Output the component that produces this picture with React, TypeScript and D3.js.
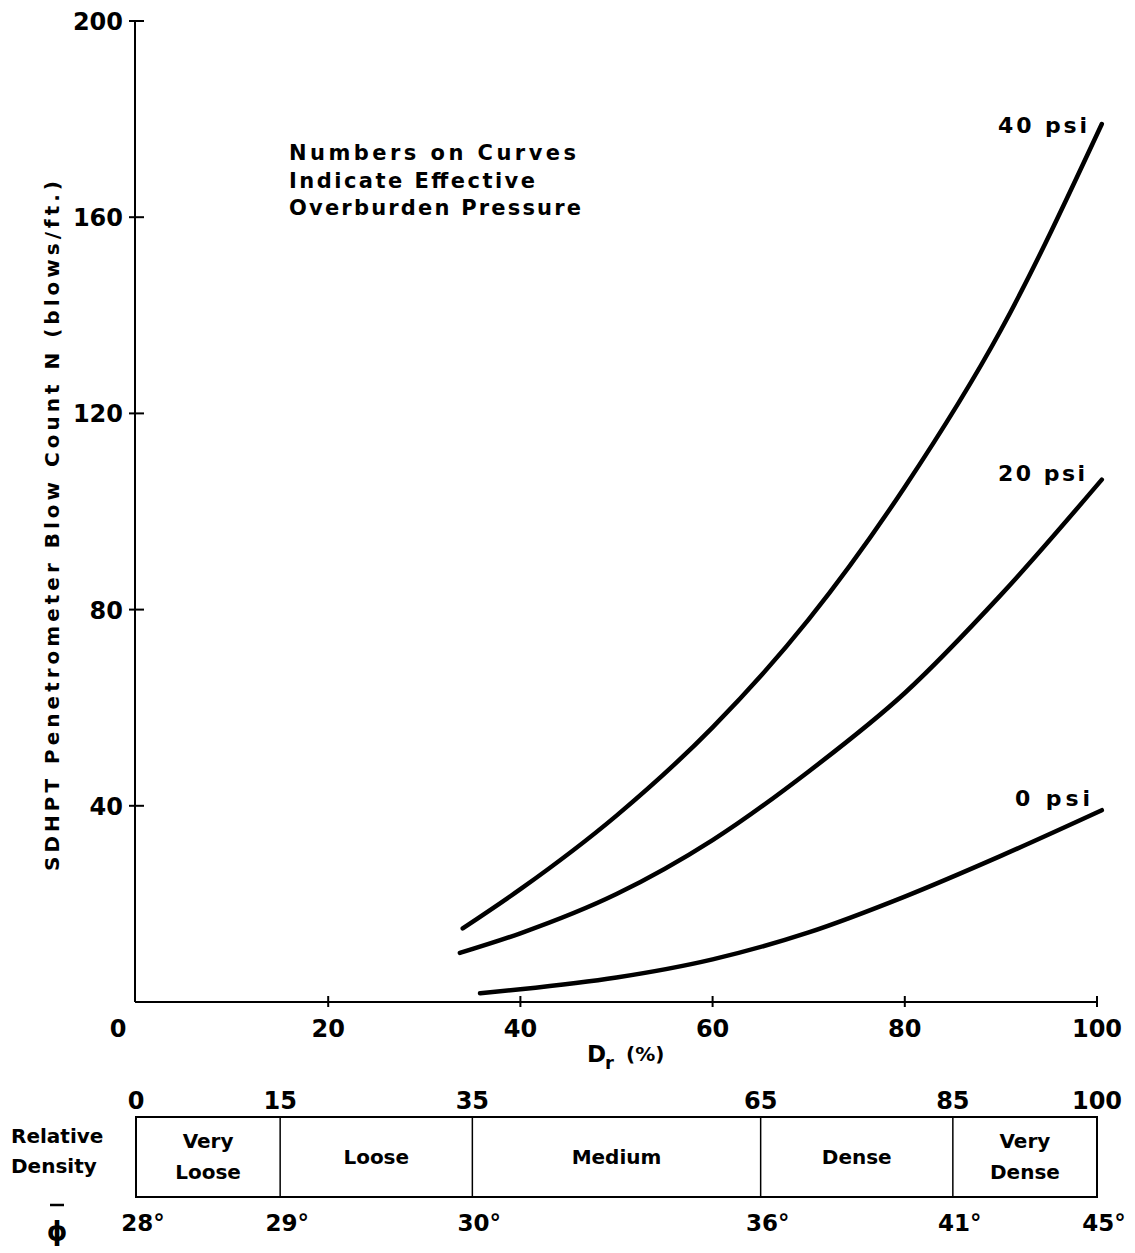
import React from "react";
import * as d3 from "d3";

const xTicks = [0, 20, 40, 60, 80, 100];
const yTicks = [40, 80, 120, 160, 200];

const curve40 = [
  [34, 15], [40, 23], [50, 38], [60, 56], [70, 78], [80, 105], [90, 137], [100.5, 179],
];
const curve20 = [
  [33.7, 10], [40, 14], [50, 22], [60, 33], [70, 47], [80, 63], [90, 83], [100.5, 106.5],
];
const curve0 = [
  [35.8, 1.8], [40, 2.6], [50, 5], [60, 8.7], [70, 14.2], [80, 21.5], [90, 29.8], [100.5, 39.1],
];
const curveLabels = ["40 psi", "20 psi", "0 psi"];

const densityBounds = [0, 15, 35, 65, 85, 100];
const densityNames = [["Very", "Loose"], ["Loose"], ["Medium"], ["Dense"], ["Very", "Dense"]];
const phiLabels = ["28°", "29°", "30°", "36°", "41°", "45°"];

const FONT = "'DejaVu Sans', Verdana, sans-serif";

export default function App() {
  const x = d3.scaleLinear().domain([0, 100]).range([136, 1097]);
  const y = d3.scaleLinear().domain([0, 200]).range([1002, 21]);
  const line = d3
    .line<number[]>()
    .x((d) => x(d[0]))
    .y((d) => y(d[1]))
    .curve(d3.curveMonotoneX);

  const curves = [curve40, curve20, curve0];
  const labelPos = [
    { x: 998, y: 133, len: 89 },
    { x: 998, y: 481, len: 87 },
    { x: 1015, y: 806, len: 75 },
  ];

  const boxTop = 1117;
  const boxBot = 1197;

  return (
    <svg
      width={1135}
      height={1253}
      style={{ position: "absolute", left: 0, top: 0, background: "#fff" }}
      fontFamily={FONT}
      fontWeight="bold"
    >
      <rect x={0} y={0} width={1135} height={1253} fill="#fff" />
      {/* axes */}
      <line x1={x(0) - 1} x2={x(0) - 1} y1={y(200)} y2={y(0)} stroke="#000" strokeWidth={2} />
      <line x1={x(0) - 1} x2={x(100)} y1={y(0)} y2={y(0)} stroke="#000" strokeWidth={2} />
      {xTicks.filter((t) => t > 0).map((t) => (
        <line key={"xt" + t} x1={x(t)} x2={x(t)} y1={y(0) - 6} y2={y(0) + 5} stroke="#000" strokeWidth={2} />
      ))}
      {yTicks.map((t) => (
        <line key={"yt" + t} x1={x(0) - 7} x2={x(0) + 8} y1={y(t)} y2={y(t)} stroke="#000" strokeWidth={2} />
      ))}
      {xTicks.map((t) => (
        <text key={"xl" + t} x={t === 0 ? x(t) - 18 : x(t)} y={y(0) + 35} fontSize={24} textAnchor="middle">
          {t}
        </text>
      ))}
      {yTicks.map((t) => (
        <text key={"yl" + t} x={123} y={y(t) + 9} fontSize={24} textAnchor="end">
          {t}
        </text>
      ))}
      {/* y axis title */}
      <text
        transform={`translate(59, 526) rotate(-90)`}
        fontSize={20}
        textAnchor="middle"
        textLength={690}
        lengthAdjust="spacing"
      >
        SDHPT Penetrometer Blow Count N (blows/ft.)
      </text>
      {/* x axis title */}
      <text x={587} y={1062} fontSize={23}>
        D
      </text>
      <text x={605} y={1069} fontSize={18}>
        r
      </text>
      <text x={626} y={1061} fontSize={20}>
        (%)
      </text>
      {/* note */}
      <text x={289} y={160} fontSize={21} textLength={287} lengthAdjust="spacing">
        Numbers on Curves
      </text>
      <text x={289} y={188} fontSize={21} textLength={246} lengthAdjust="spacing">
        Indicate Effective
      </text>
      <text x={289} y={215} fontSize={21} textLength={292} lengthAdjust="spacing">
        Overburden Pressure
      </text>
      {/* curves */}
      {curves.map((c, i) => (
        <path key={"c" + i} d={line(c as any) || ""} fill="none" stroke="#000" strokeWidth={4.5} strokeLinecap="round" />
      ))}
      {curveLabels.map((l, i) => (
        <text
          key={"cl" + i}
          x={labelPos[i].x}
          y={labelPos[i].y}
          fontSize={22}
          textLength={labelPos[i].len}
          lengthAdjust="spacing"
        >
          {l}
        </text>
      ))}
      {/* relative density table */}
      {densityBounds.map((b) => (
        <text key={"db" + b} x={x(b)} y={1109} fontSize={24} textAnchor="middle">
          {b}
        </text>
      ))}
      <rect
        x={x(0)}
        y={boxTop}
        width={x(100) - x(0)}
        height={boxBot - boxTop}
        fill="none"
        stroke="#000"
        strokeWidth={2}
      />
      {densityBounds.slice(1, -1).map((b) => (
        <line key={"dv" + b} x1={x(b)} x2={x(b)} y1={boxTop} y2={boxBot} stroke="#000" strokeWidth={1.5} />
      ))}
      {densityNames.map((names, i) => {
        const cx = (x(densityBounds[i]) + x(densityBounds[i + 1])) / 2;
        const cy = (boxTop + boxBot) / 2;
        if (names.length === 1) {
          return (
            <text key={"dn" + i} x={cx} y={cy + 7} fontSize={20} textAnchor="middle">
              {names[0]}
            </text>
          );
        }
        return (
          <g key={"dn" + i}>
            <text x={cx} y={cy - 9} fontSize={20} textAnchor="middle">
              {names[0]}
            </text>
            <text x={cx} y={cy + 22} fontSize={20} textAnchor="middle">
              {names[1]}
            </text>
          </g>
        );
      })}
      <text x={11} y={1143} fontSize={20}>
        Relative
      </text>
      <text x={11} y={1173} fontSize={20}>
        Density
      </text>
      {/* phi row */}
      {densityBounds.map((b, i) => (
        <text key={"ph" + b} x={x(b) + 7} y={1231} fontSize={23} textAnchor="middle">
          {phiLabels[i]}
        </text>
      ))}
      <text x={57} y={1240} fontSize={26} textAnchor="middle">
        ϕ
      </text>
      <line x1={50} x2={64} y1={1205} y2={1205} stroke="#000" strokeWidth={2.5} />
    </svg>
  );
}
